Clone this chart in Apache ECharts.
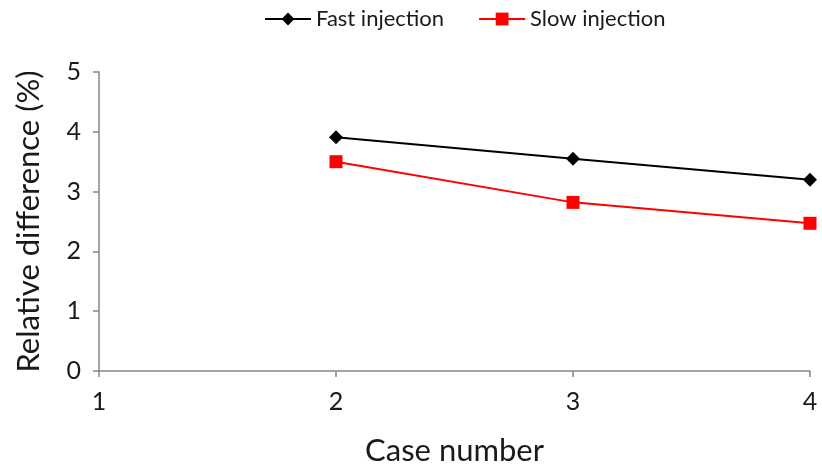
<!DOCTYPE html>
<html><head><meta charset="utf-8">
<script src="https://cdn.jsdelivr.net/npm/echarts@6/dist/echarts.min.js"></script>
<style>html,body{margin:0;padding:0;background:#fff}#c{width:822px;height:471px}</style>
</head><body><div id="c"></div>
<script>
const caseNumbers = [2, 3, 4];
const fastInjection = [3.91, 3.55, 3.20];
const slowInjection = [3.50, 2.82, 2.47];
const seriesNames = ['Fast injection', 'Slow injection'];

const font = 'Lato';
const axisColor = '#868686';
const textColor = '#1a1a1a';
const chart = echarts.init(document.getElementById('c'));
chart.setOption({
  animation: false,
  textStyle: {fontFamily: font},
  legend: {
    top: 3, left: 259, itemGap: 34, itemWidth: 46, itemHeight: 16,
    textStyle: {fontFamily: font, fontSize: 22, color: textColor},
    data: seriesNames
  },
  grid: {left: 99, right: 12, top: 72, bottom: 98},
  xAxis: {
    type: 'value', min: 1, max: 4, interval: 1,
    name: 'Case number', nameLocation: 'middle', nameGap: 64,
    nameTextStyle: {fontFamily: font, fontSize: 31, color: textColor},
    axisLine: {lineStyle: {color: axisColor, width: 1.5}},
    axisTick: {show: true, length: 6, lineStyle: {color: axisColor, width: 1.5}},
    axisLabel: {fontFamily: font, fontSize: 25, color: textColor, margin: 18},
    splitLine: {show: false}
  },
  yAxis: {
    type: 'value', min: 0, max: 5, interval: 1,
    name: 'Relative difference (%)', nameLocation: 'middle', nameGap: 55,
    nameTextStyle: {fontFamily: font, fontSize: 31, color: textColor},
    axisLine: {show: true, lineStyle: {color: axisColor, width: 1.5}},
    axisTick: {show: true, length: 6, lineStyle: {color: axisColor, width: 1.5}},
    axisLabel: {fontFamily: font, fontSize: 25, color: textColor, margin: 18},
    splitLine: {show: false}
  },
  series: [
    {
      name: seriesNames[0], type: 'line',
      data: caseNumbers.map((x, i) => [x, fastInjection[i]]),
      symbol: 'diamond', symbolSize: 14,
      lineStyle: {color: '#000', width: 2},
      itemStyle: {color: '#000'}
    },
    {
      name: seriesNames[1], type: 'line',
      data: caseNumbers.map((x, i) => [x, slowInjection[i]]),
      symbol: 'rect', symbolSize: 13,
      lineStyle: {color: '#ff0000', width: 2},
      itemStyle: {color: '#ff0000'}
    }
  ]
});
</script></body></html>
